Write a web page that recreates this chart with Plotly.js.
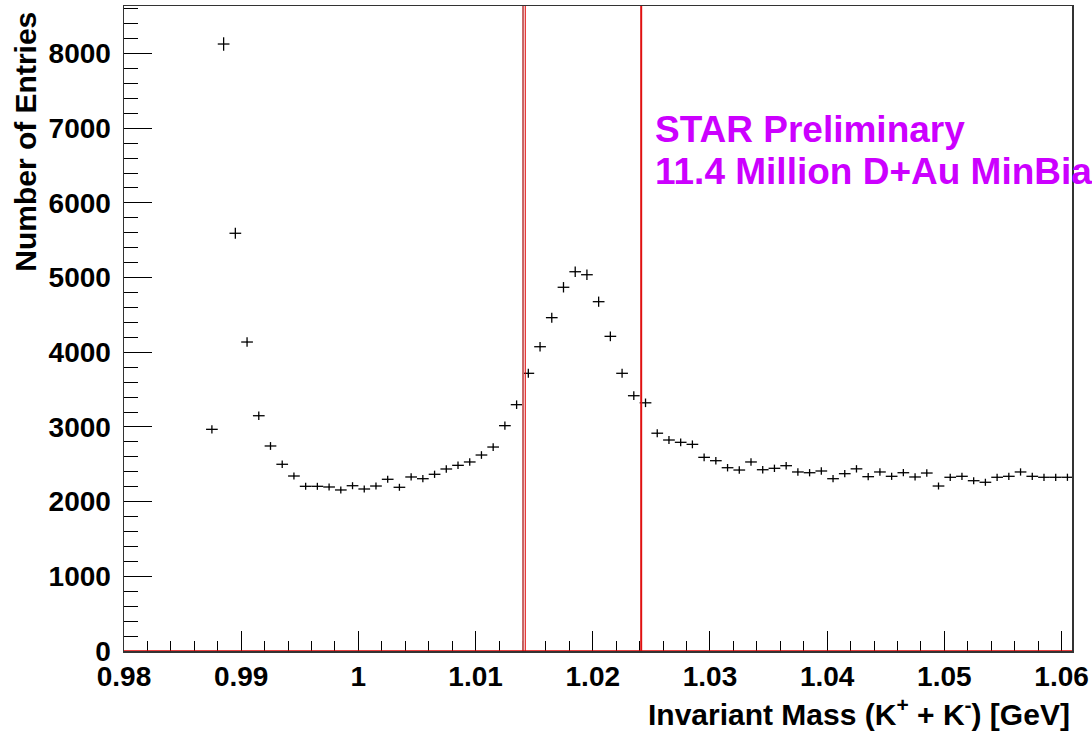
<!DOCTYPE html>
<html>
<head>
<meta charset="utf-8">
<script src="https://cdn.plot.ly/plotly-3.0.1.min.js"></script>
<style>html,body{margin:0;padding:0;background:#fff;}#chart{width:1092px;height:732px;}</style>
</head>
<body>
<div id="chart"></div>
<script>
// Bin centres (GeV)
const massBins = [
  0.9875, 0.9885, 0.9895, 0.9905, 0.9915, 0.9925, 0.9935, 0.9945, 0.9955, 0.9965,
  0.9975, 0.9985, 0.9995, 1.0005, 1.0015, 1.0025, 1.0035, 1.0045, 1.0055, 1.0065,
  1.0075, 1.0085, 1.0095, 1.0105, 1.0115, 1.0125, 1.0135, 1.0145, 1.0155, 1.0165,
  1.0175, 1.0185, 1.0195, 1.0205, 1.0215, 1.0225, 1.0235, 1.0245, 1.0255, 1.0265,
  1.0275, 1.0285, 1.0295, 1.0305, 1.0315, 1.0325, 1.0335, 1.0345, 1.0355, 1.0365,
  1.0375, 1.0385, 1.0395, 1.0405, 1.0415, 1.0425, 1.0435, 1.0445, 1.0455, 1.0465,
  1.0475, 1.0485, 1.0495, 1.0505, 1.0515, 1.0525, 1.0535, 1.0545, 1.0555, 1.0565,
  1.0575, 1.0585, 1.0595, 1.0605
];
// Entries per bin
const entries = [
  2968, 8127, 5593, 4137, 3150, 2745, 2500, 2343, 2205, 2205,
  2196, 2156, 2213, 2169, 2209, 2299, 2192, 2330, 2307, 2366,
  2437, 2486, 2531, 2624, 2731, 3017, 3298, 3718, 4074, 4463,
  4870, 5078, 5038, 4677, 4213, 3718, 3418, 3323, 2916, 2825,
  2794, 2767, 2593, 2548, 2454, 2423, 2531, 2427, 2446, 2481,
  2397, 2387, 2410, 2307, 2374, 2439, 2334, 2397, 2339, 2387,
  2330, 2383, 2209, 2326, 2339, 2280, 2259, 2326, 2339, 2397,
  2339, 2326, 2326, 2326
];
const xTickVals = [0.98, 0.99, 1.00, 1.01, 1.02, 1.03, 1.04, 1.05, 1.06];
const xTickText = ["0.98", "0.99", "1", "1.01", "1.02", "1.03", "1.04", "1.05", "1.06"];
const yTickVals = [0, 1000, 2000, 3000, 4000, 5000, 6000, 7000, 8000];
const yTickText = ["0", "1000", "2000", "3000", "4000", "5000", "6000", "7000", "8000"];
const massWindow = [1.01405, 1.02413];
const binHalfWidth = 0.0005;
const infoLines = ["STAR Preliminary", "11.4 Million D+Au MinBias"];

const fam = "Liberation Sans, Arial, Helvetica, sans-serif";
const labelFont = {family: fam, size: 28, color: "#000", weight: "bold"};
const titleFont = {family: fam, size: 30, color: "#000", weight: "bold"};
const infoFont = {family: fam, size: 37, color: "#cc00ff", weight: "bold"};

const trace = {
  x: massBins,
  y: entries,
  type: "scatter",
  mode: "markers",
  marker: {size: 1, color: "#000"},
  error_y: {type: "sqrt", visible: true, color: "#000", thickness: 1.3, width: 0},
  error_x: {type: "constant", value: binHalfWidth, visible: true, color: "#000", thickness: 1.3, width: 0},
  hoverinfo: "x+y",
  showlegend: false
};

const layout = {
  width: 1092,
  height: 732,
  paper_bgcolor: "#fff",
  plot_bgcolor: "#fff",
  margin: {l: 124, r: 20, t: 6, b: 81},
  showlegend: false,
  xaxis: {
    range: [0.98, 1.06089],
    tickvals: xTickVals,
    ticktext: xTickText,
    ticks: "inside",
    ticklen: 20,
    tickwidth: 1,
    tickcolor: "#000",
    minor: {dtick: 0.002, tick0: 0.98, ticks: "inside", ticklen: 10, tickwidth: 1, tickcolor: "#000", showgrid: false},
    showgrid: false,
    zeroline: false,
    showline: true,
    linecolor: "#333",
    linewidth: 1.5,
    mirror: true,
    tickfont: labelFont
  },
  yaxis: {
    range: [0, 8636],
    tickvals: yTickVals,
    ticktext: yTickText,
    ticks: "inside",
    ticklen: 28,
    tickwidth: 1,
    tickcolor: "#000",
    minor: {dtick: 200, tick0: 0, ticks: "inside", ticklen: 14, tickwidth: 1, tickcolor: "#000", showgrid: false},
    showgrid: false,
    zeroline: false,
    showline: true,
    linecolor: "#333",
    linewidth: 1.5,
    mirror: true,
    tickfont: labelFont,
    ticklabelstandoff: 6
  },
  shapes: [
    {type: "line", xref: "x", yref: "paper", x0: massWindow[0], x1: massWindow[0], y0: 0, y1: 1, line: {color: "#c86464", width: 2}},
    {type: "line", xref: "x", yref: "paper", x0: massWindow[0] + 0.00019, x1: massWindow[0] + 0.00019, y0: 0, y1: 1, line: {color: "#e00000", width: 1}},
    {type: "line", xref: "x", yref: "paper", x0: massWindow[1], x1: massWindow[1], y0: 0, y1: 1, line: {color: "#e01010", width: 2}},
    {type: "line", xref: "paper", yref: "y", x0: 0, x1: 1, y0: 0, y1: 0, line: {color: "#e00000", width: 1.5}}
  ],
  annotations: [
    {
      text: infoLines[0],
      xref: "paper", yref: "paper",
      x: 0.5585, y: 0.8434,
      xanchor: "left", yanchor: "top", align: "left",
      showarrow: false,
      font: infoFont
    },
    {
      text: infoLines[1],
      xref: "paper", yref: "paper",
      x: 0.5585, y: 0.7783,
      xanchor: "left", yanchor: "top", align: "left",
      showarrow: false,
      font: infoFont
    },
    {
      text: "Number of Entries",
      xref: "paper", yref: "paper",
      x: -0.1035, y: 0.994,
      xanchor: "center", yanchor: "top",
      textangle: -90,
      showarrow: false,
      font: titleFont
    },
    {
      text: "Invariant Mass (K<sup>+</sup> + K<sup>-</sup>) [GeV]",
      xref: "paper", yref: "paper",
      x: 1.0, y: -0.0946,
      xanchor: "right", yanchor: "middle",
      showarrow: false,
      font: titleFont
    }
  ]
};

Plotly.newPlot("chart", [trace], layout, {displayModeBar: false, staticPlot: true});
</script>
</body>
</html>
